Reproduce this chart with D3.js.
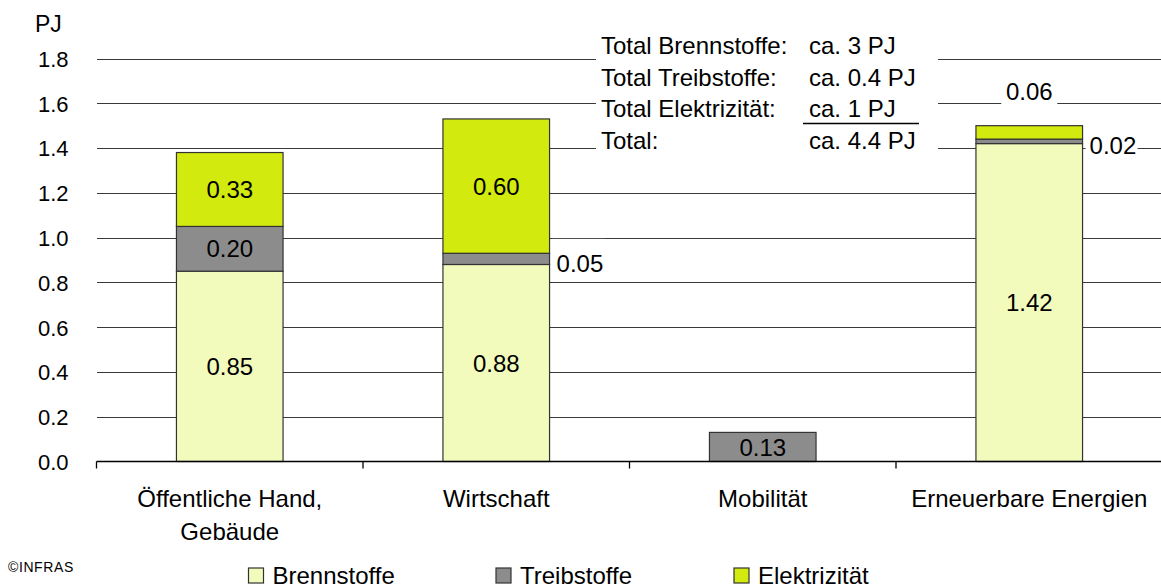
<!DOCTYPE html>
<html>
<head>
<meta charset="utf-8">
<script src="https://cdn.jsdelivr.net/npm/d3@7"></script>
<style>
  html, body { margin: 0; padding: 0; background: #fff; }
  svg { display: block; font-family: "Liberation Sans", Arial, sans-serif; }
</style>
</head>
<body>
<svg id="chart" width="1161" height="588"></svg>
<script>
// ---- data ----
const categories = ["Öffentliche Hand,\nGebäude", "Wirtschaft", "Mobilität", "Erneuerbare Energien"];
const seriesNames = ["Brennstoffe", "Treibstoffe", "Elektrizität"];
const brennstoffe = [0.85, 0.88, 0, 1.42];
const treibstoffe = [0.20, 0.05, 0.13, 0.02];
const elektrizitaet = [0.33, 0.60, 0, 0.06];
const labelPlacement = [
  ["in", "in", "none", "in"],      // Brennstoffe
  ["in", "right", "in", "right"],  // Treibstoffe
  ["in", "in", "none", "top"]      // Elektrizität
];
const yTicks = [0, 0.2, 0.4, 0.6, 0.8, 1.0, 1.2, 1.4, 1.6, 1.8];
const yUnit = "PJ";
const totalLabels = ["Total Brennstoffe:", "Total Treibstoffe:", "Total Elektrizität:", "Total:"];
const totalValues = ["ca. 3 PJ", "ca. 0.4 PJ", "ca. 1 PJ", "ca. 4.4 PJ"];
const copyright = "©INFRAS";
const colors = ["#F2FBBC", "#8C8C8C", "#D2EA0D"];

// ---- layout ----
const svg = d3.select("#chart");
const left = 96.5, right = 1162.5, y0 = 461.5, yTop = 58.5;
const x = d3.scaleBand().domain(categories).range([left, right]).paddingInner(0.6).paddingOuter(0.3);
const y = d3.scaleLinear().domain([0, 1.8]).range([y0, yTop]);
const FONT = "Liberation Sans, Arial, sans-serif";

// gridlines
const grid = svg.append("g").attr("transform", `translate(${left},0)`)
  .call(d3.axisLeft(y).tickValues(yTicks.filter(t => t > 0)).tickSize(-(right - left)).tickFormat(""));
grid.select(".domain").remove();
grid.selectAll("line").attr("stroke", "#3a3a3a").attr("stroke-width", 1).attr("shape-rendering", "crispEdges");

// y labels
const ya = svg.append("g").attr("transform", `translate(68.5,0)`)
  .call(d3.axisLeft(y).tickValues(yTicks).tickSize(0).tickPadding(0).tickFormat(d3.format(".1f")));
ya.select(".domain").remove();
ya.selectAll("text").attr("font-size", 22).attr("font-family", FONT).attr("fill", "#000").attr("dy", "0.36em");

svg.append("text").attr("x", 35).attr("y", 31.5).attr("font-size", 23).attr("font-family", FONT).text(yUnit);

// stacked data
const rows = categories.map((c, i) => ({ cat: c, Brennstoffe: brennstoffe[i], Treibstoffe: treibstoffe[i], "Elektrizität": elektrizitaet[i] }));
const stack = d3.stack().keys(seriesNames)(rows);

// label background helpers (white boxes break gridlines)
const bgLayer = svg.append("g");

// totals box background
bgLayer.append("rect").attr("x", 596).attr("y", 30).attr("width", 342).attr("height", 132).attr("fill", "#fff");

// bars
const barsG = svg.append("g");
stack.forEach((layer, si) => {
  barsG.selectAll(null).data(layer.filter(d => d[1] - d[0] > 0)).enter().append("rect")
    .attr("x", d => x(d.data.cat))
    .attr("y", d => y(d[1]))
    .attr("width", x.bandwidth())
    .attr("height", d => y(d[0]) - y(d[1]))
    .attr("fill", colors[si])
    .attr("stroke", "#333")
    .attr("stroke-width", 1.2);
});

// value labels
const labelsG = svg.append("g").attr("font-family", FONT).attr("font-size", 24).attr("fill", "#000");
stack.forEach((layer, si) => {
  layer.forEach((d, ci) => {
    const v = d[1] - d[0];
    const pos = labelPlacement[si][ci];
    if (pos === "none" || v <= 0) return;
    const txt = d3.format(".2f")(v);
    const cx = x(d.data.cat) + x.bandwidth() / 2;
    const cy = (y(d[0]) + y(d[1])) / 2;
    if (pos === "in") {
      labelsG.append("text").attr("x", cx).attr("y", cy).attr("dy", "0.36em").attr("text-anchor", "middle").text(txt);
    } else if (pos === "right") {
      const lx = x(d.data.cat) + x.bandwidth() + 7;
      bgLayer.append("rect").attr("x", lx - 4).attr("y", cy - 20).attr("width", 52).attr("height", 40).attr("fill", "#fff");
      labelsG.append("text").attr("x", lx).attr("y", cy + 4).attr("dy", "0.36em").text(txt);
    } else if (pos === "top") {
      const ty = y(d[1]) - 34;
      bgLayer.append("rect").attr("x", cx - 28).attr("y", ty - 16).attr("width", 56).attr("height", 32).attr("fill", "#fff");
      labelsG.append("text").attr("x", cx).attr("y", ty).attr("dy", "0.36em").attr("text-anchor", "middle").text(txt);
    }
  });
});

// x axis baseline + ticks at category boundaries
const boundaries = d3.range(categories.length + 1).map(i => left + i * x.step());
svg.append("line").attr("x1", left).attr("x2", right).attr("y1", y0).attr("y2", y0)
  .attr("stroke", "#000").attr("stroke-width", 1.3);
svg.selectAll(null).data(boundaries).enter().append("line")
  .attr("x1", d => d).attr("x2", d => d).attr("y1", y0).attr("y2", y0 + 7)
  .attr("stroke", "#000").attr("stroke-width", 1.3);

// category labels
const catG = svg.append("g").attr("font-family", FONT).attr("font-size", 24).attr("fill", "#000").attr("text-anchor", "middle");
categories.forEach(c => {
  const t = catG.append("text").attr("x", x(c) + x.bandwidth() / 2).attr("y", 507);
  c.split("\n").forEach((line, i) => {
    t.append("tspan").attr("x", x(c) + x.bandwidth() / 2).attr("dy", i === 0 ? 0 : 33).text(line);
  });
});

// totals text
const totG = svg.append("g").attr("font-family", FONT).attr("font-size", 24).attr("fill", "#000");
const totBase = [54, 85.5, 117, 149];
totalLabels.forEach((l, i) => {
  totG.append("text").attr("x", 601).attr("y", totBase[i]).text(l);
  totG.append("text").attr("x", 809).attr("y", totBase[i]).text(totalValues[i]);
});
totG.append("line").attr("x1", 803).attr("x2", 919).attr("y1", 123.5).attr("y2", 123.5)
  .attr("stroke", "#000").attr("stroke-width", 1.3);

// legend
const legX = [248.5, 496, 734];
const legG = svg.append("g").attr("font-family", FONT).attr("font-size", 24).attr("fill", "#000");
seriesNames.forEach((s, i) => {
  legG.append("rect").attr("x", legX[i]).attr("y", 568).attr("width", 15).attr("height", 15)
    .attr("fill", colors[i]).attr("stroke", "#333").attr("stroke-width", 1.2);
  legG.append("text").attr("x", legX[i] + 24).attr("y", 583.5).text(s);
});

// copyright
svg.append("text").attr("x", 8).attr("y", 572).attr("font-family", FONT).attr("font-size", 14)
  .attr("letter-spacing", 0.6).text(copyright);
</script>
</body>
</html>
